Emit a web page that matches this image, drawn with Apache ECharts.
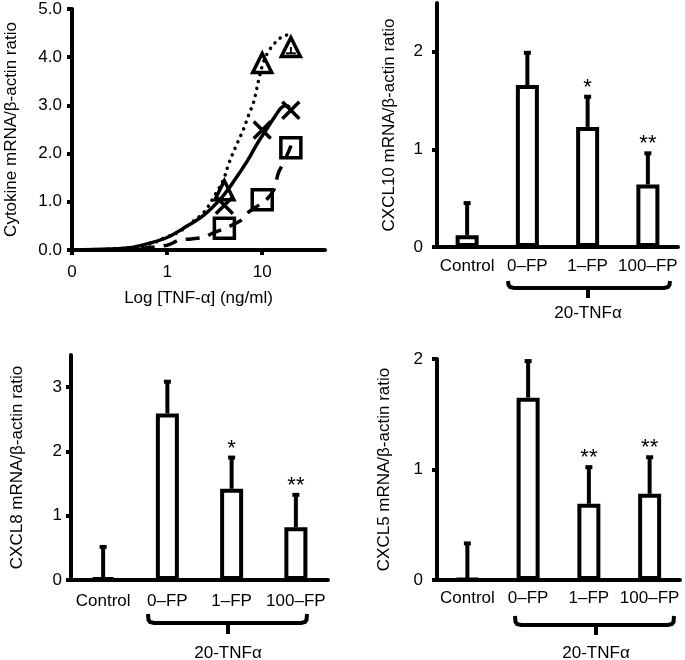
<!DOCTYPE html>
<html><head><meta charset="utf-8">
<script src="https://cdn.jsdelivr.net/npm/echarts@6/dist/echarts.min.js"></script>
<style>html,body{margin:0;padding:0;background:#fff}#c{width:685px;height:660px}</style>
</head><body><div id="c"></div><script>
// ---------- Panel A: dose response (x = log10 of TNF-alpha ng/ml) ----------
const doseConc = [4, 10, 20];
const doseTickValues = [-1, 0, 1];
const doseTickLabels = ['0', '1', '10'];
const triangleVals = [1.24, 3.88, 4.21];
const triangleErr = [0, 0, 0.13];
const crossVals = [0.93, 2.49, 2.9];
const squareVals = [0.45, 1.04, 2.12];
// fitted curves: [log10 conc, value]
const dottedCurveX = [-1, -0.6, -0.35, -0.14, -0.03, 0.12, 0.25, 0.39, 0.49, 0.59, 0.65, 0.73, 0.80, 0.85, 0.91, 0.94, 0.97, 1.01, 1.06, 1.13, 1.22, 1.27];
const dottedCurveY = [0, 0.02, 0.06, 0.15, 0.25, 0.37, 0.56, 0.79, 1.1, 1.45, 1.8, 2.18, 2.49, 2.76, 3.07, 3.32, 3.59, 3.88, 4.1, 4.29, 4.44, 4.46];
const solidCurveX = [-1, -0.6, -0.35, -0.17, 0.01, 0.18, 0.39, 0.57, 0.71, 0.85, 0.94, 1.04, 1.13, 1.2, 1.25, 1.29];
const solidCurveY = [0, 0.02, 0.06, 0.15, 0.27, 0.46, 0.73, 1.08, 1.45, 1.87, 2.18, 2.49, 2.76, 2.95, 3.0, 2.96];
const dashedCurveX = [-1, -0.5, 0, 0.12, 0.25, 0.39, 0.48, 0.62, 0.78, 0.86, 0.94, 1.02, 1.12, 1.17, 1.23, 1.31];
const dashedCurveY = [0, 0.01, 0.1, 0.2, 0.23, 0.27, 0.35, 0.46, 0.62, 0.79, 0.9, 1.0, 1.24, 1.6, 1.83, 2.2];

// ---------- Bar panels ----------
const categories = ['Control', '0\u2013FP', '1\u2013FP', '100\u2013FP'];
const cxcl10Mean = [0.12, 1.66, 1.23, 0.64];
const cxcl10Err = [0.34, 0.34, 0.32, 0.33];
const cxcl10Stars = ['', '', '*', '**'];
const cxcl8Mean = [0.03, 2.59, 1.42, 0.82];
const cxcl8Err = [0.50, 0.51, 0.50, 0.52];
const cxcl8Stars = ['', '', '*', '**'];
const cxcl5Mean = [0.01, 1.65, 0.69, 0.78];
const cxcl5Err = [0.33, 0.34, 0.34, 0.34];
const cxcl5Stars = ['', '', '**', '**'];
const groupLabel = '20-TNF\u03b1';

const FONT = '"Liberation Sans", Arial, Helvetica, sans-serif';
const FS = 17;
const black = '#000';

function yAxisCommon(gridIndex, name, max, ticks, fmt, labelMargin, nameGap) {
  return {
    type: 'value', gridIndex, min: 0, max, name, nameLocation: 'middle', nameGap,
    nameTextStyle: { fontFamily: FONT, fontSize: FS, color: black },
    axisLine: { show: true, onZero: false, lineStyle: { color: black, width: 4 } },
    axisTick: { show: true, length: 5, lineStyle: { color: black, width: 4 }, customValues: ticks },
    axisLabel: { fontFamily: FONT, fontSize: FS, color: black, margin: labelMargin, customValues: ticks, formatter: fmt },
    splitLine: { show: false }
  };
}
function xCat(gridIndex, margin) {
  return {
    type: 'category', gridIndex, data: categories,
    axisLine: { onZero: false, lineStyle: { color: black, width: 4 } },
    axisTick: { alignWithLabel: true, length: 5, lineStyle: { color: black, width: 4 } },
    axisLabel: { fontFamily: FONT, fontSize: FS, color: black, margin, interval: 0 }
  };
}
function barSeries(idx, mean) {
  return {
    type: 'bar', xAxisIndex: idx, yAxisIndex: idx, data: mean, barWidth: 23,
    itemStyle: { color: '#fff', borderColor: black, borderWidth: 4 }, silent: true, animation: false
  };
}
function errSeries(idx, mean, err, stars) {
  return {
    type: 'custom', xAxisIndex: idx, yAxisIndex: idx, animation: false, silent: true,
    data: mean.map((m, i) => [i, m, err[i]]),
    renderItem(params, api) {
      const i = api.value(0), m = api.value(1), e = api.value(2);
      const p0 = api.coord([i, m]);
      const p1 = api.coord([i, m + e]);
      const children = [
        { type: 'line', shape: { x1: p0[0], y1: p0[1], x2: p1[0], y2: p1[1] }, style: { stroke: black, lineWidth: 4 } },
        { type: 'rect', shape: { x: p1[0] - 3.5, y: p1[1] - 1, width: 7, height: 4 }, style: { fill: black } }
      ];
      const s = stars[params.dataIndex];
      if (s) children.push({ type: 'text', x: p1[0], y: p1[1] - 8,
        style: { text: s, fontFamily: FONT, fontSize: 22, fill: black, align: 'center', verticalAlign: 'middle' } });
      return { type: 'group', children };
    }
  };
}
function curve(xs, ys, dash, cap) {
  return {
    type: 'line', xAxisIndex: 0, yAxisIndex: 0, data: xs.map((x, i) => [x, ys[i]]),
    smooth: 0.35, showSymbol: false, symbol: 'none', animation: false, silent: true,
    lineStyle: { color: black, width: 3.5, type: dash, cap: cap, opacity: 1 }
  };
}
function markers(vals, symbol, size) {
  return {
    type: 'scatter', xAxisIndex: 0, yAxisIndex: 0, symbol, symbolSize: size, animation: false, silent: true,
    data: doseConc.map((c, i) => [Math.log10(c), vals[i]]),
    itemStyle: { color: 'rgba(0,0,0,0)', borderColor: black, borderWidth: 3.5, opacity: 1 }, z: 5
  };
}

function brace(x1, x2, xm, yb, ye, ys, ty) {
  return [
    { type: 'polyline', shape: { points: [[x1, ye], [x1 + 0.5, yb - 3], [x1 + 2, yb - 1], [x1 + 6, yb], [x2 - 6, yb], [x2 - 2, yb - 1], [x2 - 0.5, yb - 3], [x2, ye]] },
      style: { stroke: black, lineWidth: 4, fill: null } },
    { type: 'line', shape: { x1: xm, y1: yb, x2: xm, y2: ys }, style: { stroke: black, lineWidth: 4 } },
    { type: 'text', x: xm, y: ty, style: { text: groupLabel, fontFamily: FONT, fontSize: FS, fill: black, align: 'center', verticalAlign: 'middle' } }
  ];
}

const chart = echarts.init(document.getElementById('c'), null, { renderer: 'canvas' });
chart.setOption({
  backgroundColor: '#fff',
  animation: false,
  grid: [
    { left: 72, top: 9, width: 253, height: 241 },
    { left: 437, top: 3, width: 241, height: 244 },
    { left: 71, top: 355, width: 257, height: 225 },
    { left: 437, top: 359, width: 243, height: 221 }
  ],
  xAxis: [
    { type: 'value', gridIndex: 0, min: -1, max: 1.66, name: 'Log [TNF-\u03b1] (ng/ml)', nameLocation: 'middle', nameGap: 40,
      nameTextStyle: { fontFamily: FONT, fontSize: FS, color: black },
      axisLine: { onZero: false, lineStyle: { color: black, width: 4 } },
      axisTick: { length: 5, lineStyle: { color: black, width: 4 }, customValues: doseTickValues },
      axisLabel: { fontFamily: FONT, fontSize: FS, color: black, margin: 14, customValues: doseTickValues,
        formatter: v => doseTickLabels[doseTickValues.indexOf(Math.round(v))] },
      splitLine: { show: false } },
    xCat(1, 11), xCat(2, 13), xCat(3, 10)
  ],
  yAxis: [
    yAxisCommon(0, 'Cytokine mRNA/\u03b2-actin ratio', 5, [0, 1, 2, 3, 4, 5], v => v.toFixed(1), 10, 52),
    yAxisCommon(1, 'CXCL10 mRNA/\u03b2-actin ratio', 2.5, [0, 1, 2], v => String(v), 14, 39),
    yAxisCommon(2, 'CXCL8 mRNA/\u03b2-actin ratio', 3.5, [0, 1, 2, 3], v => String(v), 9, 45),
    yAxisCommon(3, 'CXCL5 mRNA/\u03b2-actin ratio', 2, [0, 1, 2], v => String(v), 14, 44)
  ],
  series: [
    curve(dottedCurveX, dottedCurveY, [0.1, 7], 'round'),
    curve(solidCurveX, solidCurveY, 'solid', 'butt'),
    curve(dashedCurveX, dashedCurveY, [14, 9], 'butt'),
    markers(triangleVals, 'triangle', 19),
    markers(crossVals, 'path://M0,0L10,10M10,0L0,10', 17),
    markers(squareVals, 'rect', 20),
    {
      type: 'custom', xAxisIndex: 0, yAxisIndex: 0, silent: true, animation: false,
      data: doseConc.map((c, i) => [Math.log10(c), triangleVals[i], triangleErr[i]]),
      renderItem(params, api) {
        const e = api.value(2);
        if (!e) return null;
        const p0 = api.coord([api.value(0), api.value(1)]);
        const p1 = api.coord([api.value(0), api.value(1) - e]);
        return { type: 'group', children: [
          { type: 'line', shape: { x1: p0[0], y1: p0[1], x2: p1[0], y2: p1[1] }, style: { stroke: black, lineWidth: 2 } },
          { type: 'line', shape: { x1: p1[0] - 5, y1: p1[1], x2: p1[0] + 5, y2: p1[1] }, style: { stroke: black, lineWidth: 2 } }
        ] };
      }
    },
    barSeries(1, cxcl10Mean), errSeries(1, cxcl10Mean, cxcl10Err, cxcl10Stars),
    barSeries(2, cxcl8Mean), errSeries(2, cxcl8Mean, cxcl8Err, cxcl8Stars),
    barSeries(3, cxcl5Mean), errSeries(3, cxcl5Mean, cxcl5Err, cxcl5Stars)
  ],
  graphic: [
    ...brace(508, 670, 588, 288, 281, 298, 313),
    ...brace(148, 307, 228, 623, 614, 634, 653),
    ...brace(515, 674, 596, 625, 616, 635, 653)
  ]
});
</script></body></html>
